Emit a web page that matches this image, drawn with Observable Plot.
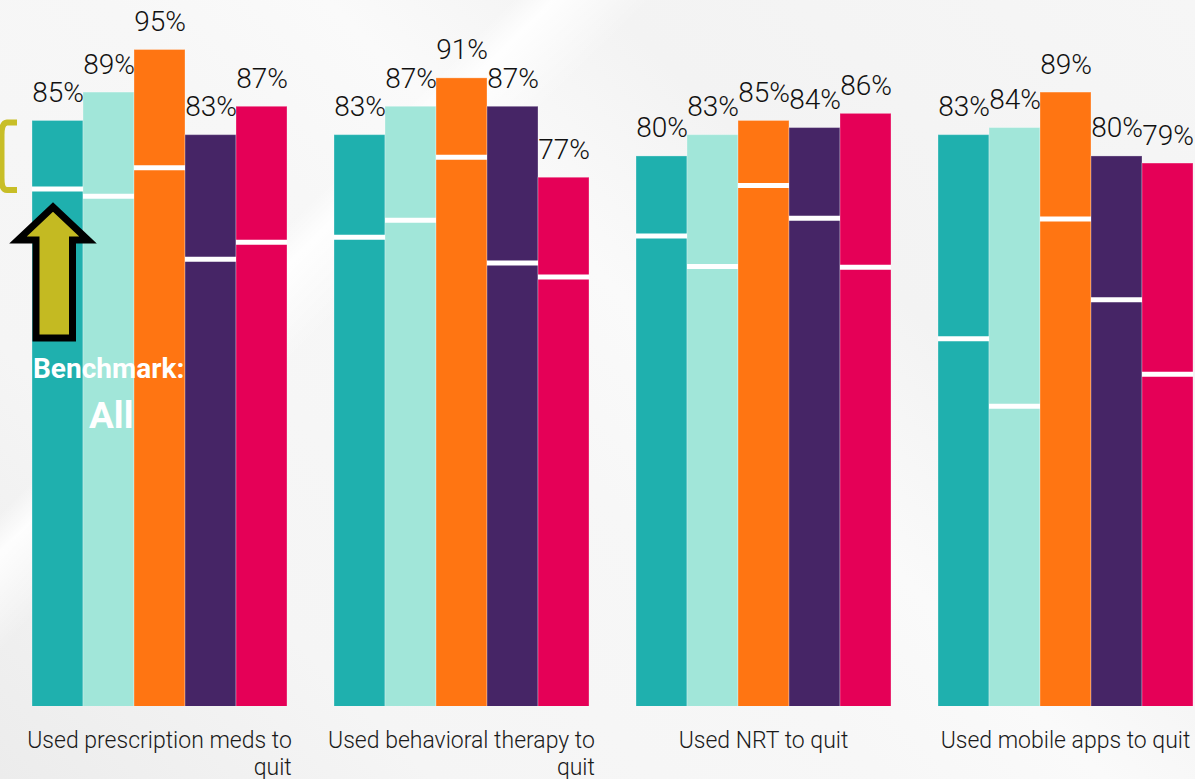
<!DOCTYPE html>
<html>
<head>
<meta charset="utf-8">
<script src="https://cdn.jsdelivr.net/npm/d3@7"></script>
<script src="https://cdn.jsdelivr.net/npm/@observablehq/plot@0.6"></script>
<style>
  html, body { margin: 0; padding: 0; }
  body {
    width: 1195px; height: 779px; overflow: hidden;
    background:
      linear-gradient(135deg, rgba(255,255,255,0) 0%, rgba(255,255,255,0) 26%, rgba(255,255,255,0.9) 28%, rgba(255,255,255,0) 33%, rgba(255,255,255,0) 100%),
      linear-gradient(45deg, #ececec 0%, #f5f5f5 22%, #f7f7f7 45%, #fafafa 56%, #f3f3f3 70%, #f6f6f6 100%);
    font-family: Roboto, "Open Sans", sans-serif;
  }
  #wrap { position: relative; width: 1195px; height: 779px; }
  #chart svg { display: block; }
  #overlay { position: absolute; left: 0; top: 0; pointer-events: none; }
</style>
</head>
<body>
<div id="wrap">
  <div id="chart"></div>
  <svg id="overlay" width="1195" height="779">
    <path d="M17,122.5 L7,122.5 Q1.5,123 1.5,135 L1.5,178 Q1.5,190 7,190 L17,190" fill="none" stroke="#c8be27" stroke-width="6"/>
    <polygon points="53,207 88,240 72.5,240 72.5,338 36,338 36,240 18,240" fill="#c4ba22" stroke="#000" stroke-width="7" stroke-linejoin="miter"/>
    <text x="33" y="378" fill="#fff" font-family="Roboto" font-weight="700" font-size="28">Benchmark:</text>
    <text x="89" y="428" fill="#fff" font-family="Roboto" font-weight="700" font-size="37">All</text>
  </svg>
</div>
<script>
// Categories (x groups) and series
const groups = [
  "Used prescription meds to quit",
  "Used behavioral therapy to quit",
  "Used NRT to quit",
  "Used mobile apps to quit"
];
const series = ["Segment 1", "Segment 2", "Segment 3", "Segment 4", "Segment 5"];
const colors = ["#1fb0ae", "#a1e6d9", "#ff7512", "#462566", "#e50057"];

// Bar values (%), one array per group, in series order
const prescriptionValues = [85, 89, 95, 83, 87];
const behavioralValues   = [83, 87, 91, 87, 77];
const nrtValues          = [80, 83, 85, 84, 86];
const appsValues         = [83, 84, 89, 80, 79];

// Benchmark (All) values (%), shown as white lines inside bars
const prescriptionBench = [75.4, 74.4, 78.4, 65.5, 67.9];
const behavioralBench   = [68.6, 71.0, 79.9, 65.0, 63.0];
const nrtBench          = [68.8, 64.5, 75.9, 71.3, 64.4];
const appsBench         = [54.3, 44.8, 71.2, 59.8, 49.3];

const valueSets = [prescriptionValues, behavioralValues, nrtValues, appsValues];
const benchSets = [prescriptionBench, behavioralBench, nrtBench, appsBench];

const data = groups.flatMap((g, gi) =>
  series.map((s, si) => ({group: g, series: s, value: valueSets[gi][si], bench: benchSets[gi][si]}))
);

// Greedy word wrap using the real font metrics
const labelFont = "300 23px Roboto";
const ctx = document.createElement("canvas").getContext("2d");
ctx.font = labelFont;
function wrap(str, maxW) {
  const words = str.split(" ");
  const lines = [];
  let line = "";
  for (const w of words) {
    const test = line ? line + " " + w : w;
    if (line && ctx.measureText(test).width > maxW) { lines.push(line); line = w; }
    else line = test;
  }
  lines.push(line);
  return lines.join("\n");
}

const chart = Plot.plot({
  width: 1195,
  height: 779,
  marginLeft: 30,
  marginRight: 0,
  marginTop: 14,
  marginBottom: 73,
  style: {background: "transparent", overflow: "visible", fontFamily: "Roboto, sans-serif"},
  fx: {domain: groups, paddingInner: 0.152, paddingOuter: 0, axis: null, label: null},
  x: {domain: series, padding: 0, axis: null},
  y: {domain: [2.5, 100], axis: null},
  color: {domain: series, range: colors},
  marks: [
    Plot.barY(data, {
      fx: "group", x: "series", y: "value", fill: "series",
      stroke: "white", strokeOpacity: 0.3, strokeWidth: 1, inset: 0, clip: true
    }),
    Plot.tickY(data, {
      fx: "group", x: "series", y: "bench",
      stroke: "white", strokeWidth: 5
    }),
    Plot.text(data, {
      fx: "group", x: "series", y: "value",
      text: d => `${d.value}%`,
      lineAnchor: "bottom", dy: -19,
      fontSize: 28, fontWeight: 300, fill: "#111"
    }),
    Plot.text(groups, {
      fx: d => d, text: d => wrap(d, 272),
      frameAnchor: "bottom", lineAnchor: "top", dy: 23,
      lineHeight: 1.15,
      fontSize: 23, fontWeight: 300, fill: "#1a1a1a"
    })
  ]
});

document.getElementById("chart").appendChild(chart);

// Excel-style wrapped labels: continuation line right-aligned to the first line's end
chart.querySelectorAll("text").forEach(t => {
  const spans = t.querySelectorAll("tspan");
  if (spans.length >= 2) {
    const w = spans[0].getComputedTextLength();
    for (let i = 1; i < spans.length; i++) {
      spans[i].setAttribute("x", w / 2);
      spans[i].style.textAnchor = "end";
    }
  }
});
</script>
</body>
</html>
